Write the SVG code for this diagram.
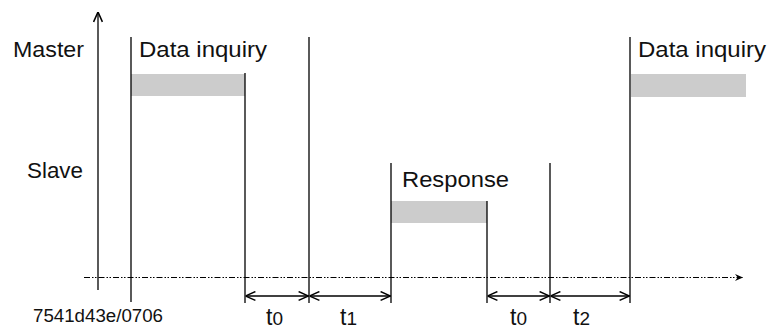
<svg xmlns="http://www.w3.org/2000/svg" width="771" height="329" viewBox="0 0 771 329">
<style>
.ln{stroke:#000;stroke-width:1.3;fill:none}
.bar{fill:#cccccc;stroke:none}
.lbl{font-family:"Liberation Sans",Arial,sans-serif;font-size:22px;fill:#111}
.tl{font-family:"Liberation Sans",Arial,sans-serif;font-size:23px;fill:#111}
.code{font-family:"Liberation Sans",Arial,sans-serif;font-size:18px;fill:#111}
.dash{stroke:#000;stroke-width:1.2;fill:none;stroke-dasharray:6 2 1.5 1.5 1.5 2}
</style>
<defs>
<marker id="open" viewBox="0 0 10 10" refX="10" refY="5" markerWidth="11" markerHeight="11" markerUnits="userSpaceOnUse" orient="auto-start-reverse">
<path d="M1,1 L10,5 L1,9" fill="none" stroke="#000" stroke-width="1.4"/>
</marker>
<marker id="solid" viewBox="0 0 10 10" refX="9" refY="5" markerWidth="9" markerHeight="9" markerUnits="userSpaceOnUse" orient="auto">
<path d="M0,1 L9,5 L0,9 L3,5 Z" fill="#000"/>
</marker>
</defs>
<g id="axes">
<line class="ln" x1="98" y1="290" x2="98" y2="12" marker-end="url(#open)"/>
<line class="dash" x1="84" y1="277.5" x2="743" y2="277.5" marker-end="url(#solid)"/>
</g>
<g id="master-inquiry">
<rect class="bar" x="131" y="74" width="114" height="22"/>
<line class="ln" x1="131" y1="37" x2="131" y2="302"/>
<line class="ln" x1="245" y1="73" x2="245" y2="303"/>
<text class="lbl" x="139" y="57" textLength="128" lengthAdjust="spacingAndGlyphs">Data inquiry</text>
</g>
<g id="separator1">
<line class="ln" x1="309" y1="37" x2="309" y2="303"/>
</g>
<g id="slave-response">
<rect class="bar" x="391" y="201" width="96" height="22"/>
<line class="ln" x1="391" y1="163" x2="391" y2="303"/>
<line class="ln" x1="487" y1="201" x2="487" y2="303"/>
<text class="lbl" x="402" y="187" textLength="107" lengthAdjust="spacingAndGlyphs">Response</text>
</g>
<g id="separator2">
<line class="ln" x1="550" y1="163" x2="550" y2="303"/>
</g>
<g id="master-inquiry2">
<rect class="bar" x="631" y="74" width="115" height="23"/>
<line class="ln" x1="630" y1="37" x2="630" y2="303"/>
<text class="lbl" x="638" y="57" textLength="128" lengthAdjust="spacingAndGlyphs">Data inquiry</text>
</g>
<g id="labels">
<text class="lbl" x="13" y="57" textLength="71" lengthAdjust="spacingAndGlyphs">Master</text>
<text class="lbl" x="27" y="178" textLength="56" lengthAdjust="spacingAndGlyphs">Slave</text>
<text class="code" x="33" y="322" textLength="130" lengthAdjust="spacingAndGlyphs">7541d43e/0706</text>
</g>
<g id="connectors">
<line class="ln" x1="245.5" y1="296" x2="308.5" y2="296" marker-start="url(#open)" marker-end="url(#open)"/>
<line class="ln" x1="309.5" y1="296" x2="390.5" y2="296" marker-start="url(#open)" marker-end="url(#open)"/>
<line class="ln" x1="487.5" y1="296" x2="549.5" y2="296" marker-start="url(#open)" marker-end="url(#open)"/>
<line class="ln" x1="550.5" y1="296" x2="629.5" y2="296" marker-start="url(#open)" marker-end="url(#open)"/>
</g>
<g id="time-labels">
<text class="tl" x="266" y="325">t<tspan font-size="19">0</tspan></text>
<text class="tl" x="340" y="325">t<tspan font-size="19">1</tspan></text>
<text class="tl" x="510" y="325">t<tspan font-size="19">0</tspan></text>
<text class="tl" x="573" y="325">t<tspan font-size="19">2</tspan></text>
</g>
</svg>
